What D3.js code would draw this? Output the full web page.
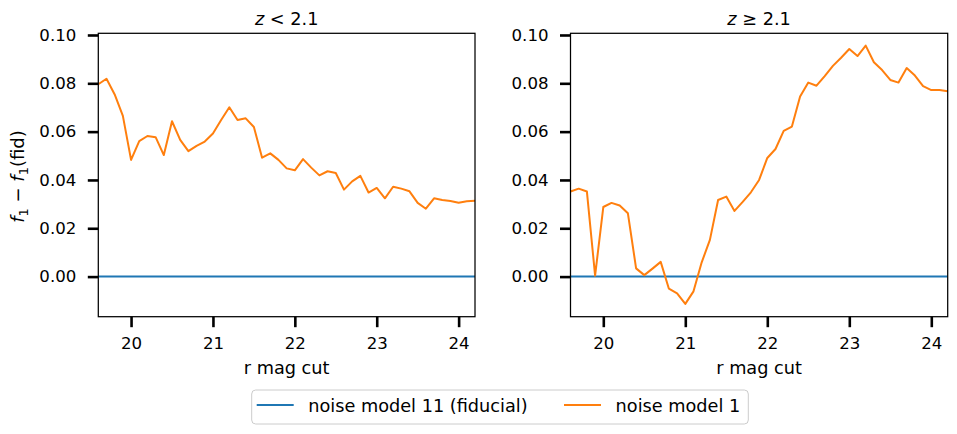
<!DOCTYPE html>
<html><head><meta charset="utf-8">
<script src="https://cdn.jsdelivr.net/npm/d3@7"></script>
<style>
body{margin:0;background:#fff;}
text{font-family:"DejaVu Sans",sans-serif;fill:#000;}
</style></head>
<body><svg id="chart" width="957" height="434"></svg>
<script>
const rmag = [19.6,19.7,19.8,19.9,20.0,20.1,20.2,20.3,20.4,20.5,20.6,20.7,20.8,20.9,21.0,21.1,21.2,21.3,21.4,21.5,21.6,21.7,21.8,21.9,22.0,22.1,22.2,22.3,22.4,22.5,22.6,22.7,22.8,22.9,23.0,23.1,23.2,23.3,23.4,23.5,23.6,23.7,23.8,23.9,24.0,24.1,24.2];
const lowZ = [0.0796,0.0819,0.0754,0.0665,0.0483,0.0561,0.0582,0.0577,0.0503,0.0643,0.0566,0.0519,0.0541,0.0559,0.0592,0.0648,0.0701,0.0648,0.0655,0.0619,0.0492,0.0510,0.0483,0.0448,0.0440,0.0486,0.0451,0.0419,0.0436,0.0429,0.0360,0.0394,0.0417,0.0348,0.0367,0.0324,0.0372,0.0364,0.0353,0.0305,0.0281,0.0324,0.0317,0.0313,0.0306,0.0312,0.0314];
const highZ = [0.0352,0.0364,0.0352,0.0004,0.0288,0.0305,0.0294,0.0262,0.0034,0.0006,0.0033,0.0061,-0.0050,-0.0069,-0.0113,-0.0061,0.0059,0.0152,0.0317,0.0331,0.0272,0.0309,0.0349,0.0400,0.0491,0.0528,0.0603,0.0621,0.0745,0.0803,0.0790,0.0830,0.0872,0.0906,0.0942,0.0913,0.0956,0.0887,0.0855,0.0814,0.0803,0.0863,0.0832,0.0788,0.0772,0.0772,0.0767];
const fiducial = rmag.map(() => 0);
const xTicks = [20,21,22,23,24];
const yTicks = [0.00,0.02,0.04,0.06,0.08,0.10];
const seriesNames = ["noise model 11 (fiducial)","noise model 1"];
const colors = ["#1f77b4","#ff7f0e"];

const svg = d3.select("#chart");
const axTop = 33.3, axBottom = 316.7;
const panels = [
  {left:98.3, right:475, data:lowZ, op:"<"},
  {left:570.5, right:947.7, data:highZ, op:"≥"}
];
const TFS = 16.6, LFS = 17.7;

panels.forEach((p, i) => {
  const x = d3.scaleLinear().domain([19.6, 24.2]).range([p.left, p.right]);
  const y = d3.scaleLinear().domain([-0.0166, 0.1007]).range([axBottom, axTop]);
  const g = svg.append("g");

  const line = d3.line().x((d,j)=>x(rmag[j])).y(d=>y(d));
  g.append("path").datum(fiducial).attr("d", line).attr("fill","none")
    .attr("stroke",colors[0]).attr("stroke-width",2);
  g.append("path").datum(p.data).attr("d", line).attr("fill","none")
    .attr("stroke",colors[1]).attr("stroke-width",2).attr("stroke-linejoin","round");

  g.append("rect").attr("x",p.left).attr("y",axTop).attr("width",p.right-p.left)
    .attr("height",axBottom-axTop).attr("fill","none").attr("stroke","#000").attr("stroke-width",1.25);

  const xa = g.append("g").attr("transform",`translate(0,${axBottom})`)
    .call(d3.axisBottom(x).tickValues(xTicks).tickSize(10.5).tickPadding(10.5).tickFormat(d3.format("d")));
  const ya = g.append("g").attr("transform",`translate(${p.left},0)`)
    .call(d3.axisLeft(y).tickValues(yTicks).tickSize(10.5).tickPadding(11.5).tickFormat(d3.format(".2f")));
  [xa, ya].forEach(a => {
    a.select(".domain").remove();
    a.selectAll(".tick line").attr("stroke","#000").attr("stroke-width",2.6);
    a.selectAll(".tick text").attr("font-size",TFS).attr("font-family","DejaVu Sans");
  });

  g.append("text").attr("x",(p.left+p.right)/2).attr("y",374).attr("text-anchor","middle")
    .attr("font-size",LFS).text("r mag cut");

  const t = g.append("text").attr("x",(p.left+p.right)/2).attr("y",25).attr("text-anchor","middle")
    .attr("font-size",LFS);
  t.append("tspan").attr("font-style","italic").text("z");
  t.append("tspan").text(" " + p.op + " 2.1");
});

// y label
const yl = svg.append("text").attr("transform","translate(24,176.5) rotate(-90)")
  .attr("text-anchor","middle").attr("font-size",18);
yl.append("tspan").attr("font-style","italic").text("f");
yl.append("tspan").attr("font-size",13).attr("dy",4).text("1");
yl.append("tspan").attr("dy",-4).text(" − ");
yl.append("tspan").attr("font-style","italic").text("f");
yl.append("tspan").attr("font-size",13).attr("dy",4).text("1");
yl.append("tspan").attr("dy",-4).text("(fid)");

// legend
const lg = svg.append("g");
lg.append("rect").attr("x",251.7).attr("y",390).attr("width",496.6).attr("height",34)
  .attr("rx",4).attr("fill","#fff").attr("stroke","#ccc").attr("stroke-width",1);
const legX = [256.7, 564];
seriesNames.forEach((name, i) => {
  lg.append("line").attr("x1",legX[i]).attr("x2",legX[i]+37).attr("y1",405).attr("y2",405)
    .attr("stroke",colors[i]).attr("stroke-width",2);
  lg.append("text").attr("x",legX[i]+51.6).attr("y",411.5).attr("font-size",LFS).text(name);
});
</script></body></html>
